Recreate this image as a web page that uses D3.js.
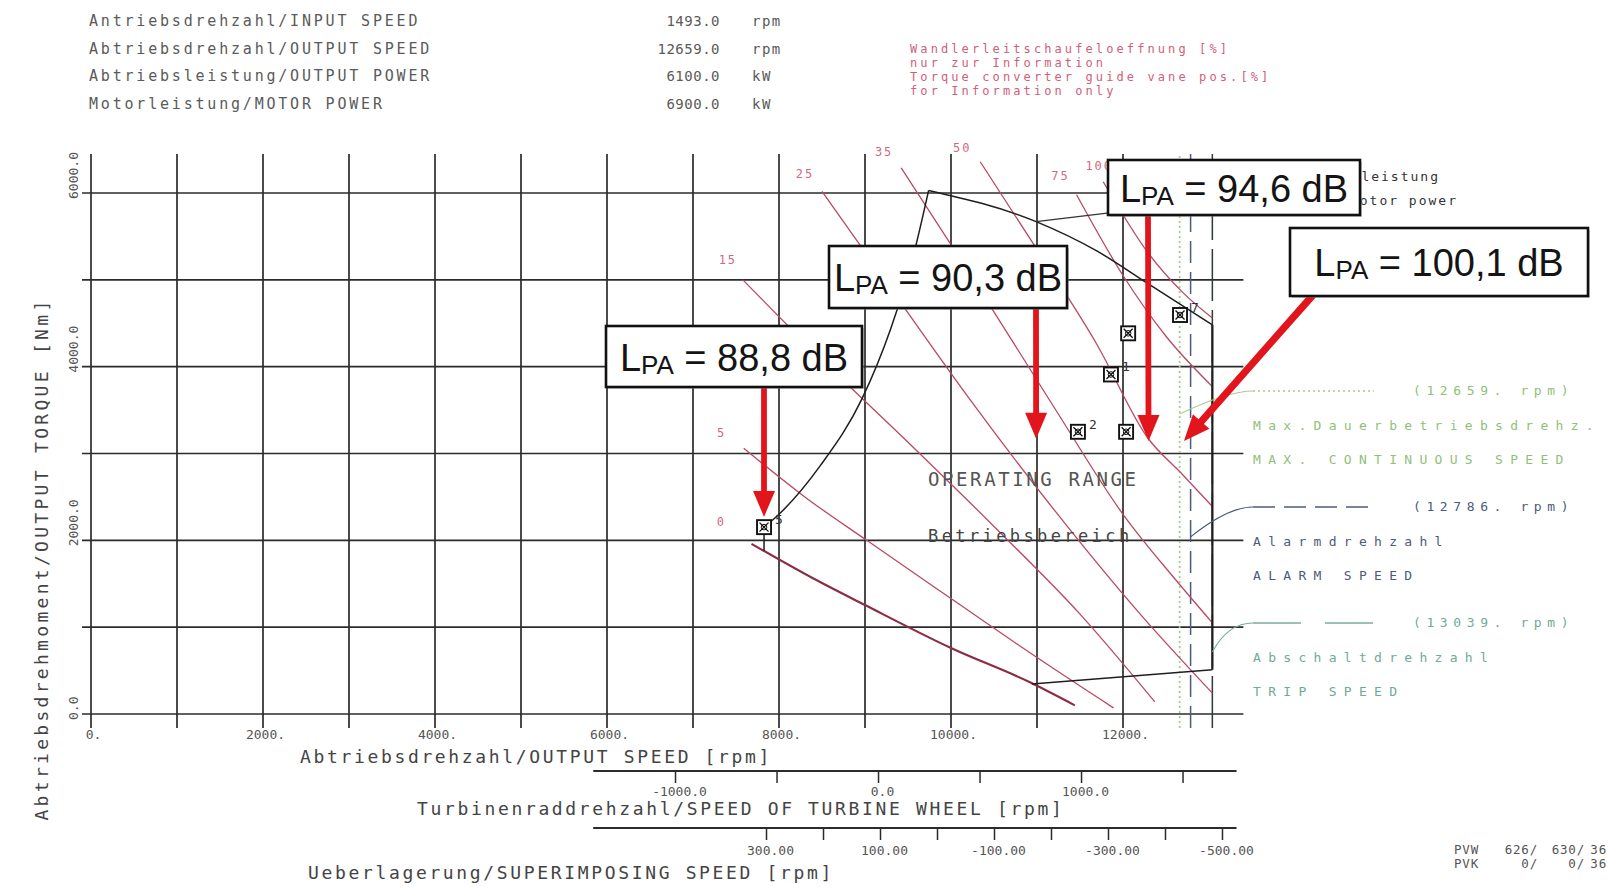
<!DOCTYPE html>
<html>
<head>
<meta charset="utf-8">
<title>Vorecon operating range</title>
<script src="https://cdn.jsdelivr.net/npm/d3@7/dist/d3.min.js"></script>
<style>
  html, body { margin: 0; padding: 0; background: #ffffff; }
  svg { display: block; }
  text { font-family: "DejaVu Sans Mono", "Liberation Mono", monospace; white-space: pre; }
  text.callout { font-family: "Liberation Sans", Arial, sans-serif; }
</style>
</head>
<body>
<svg id="chart" width="1608" height="889"></svg>
<script>
// ---------------- data ----------------
const headerLabels = [
  "Antriebsdrehzahl/INPUT SPEED",
  "Abtriebsdrehzahl/OUTPUT SPEED",
  "Abtriebsleistung/OUTPUT POWER",
  "Motorleistung/MOTOR POWER"
];
const headerValues = [1493.0, 12659.0, 6100.0, 6900.0];
const headerUnits = ["rpm", "rpm", "kW", "kW"];
const vaneInfoLines = [
  "Wandlerleitschaufeloeffnung [%]",
  "nur zur Information",
  "Torque converter guide vane pos.[%]",
  "for Information only"
];

const speedGrid = [0, 1000, 2000, 3000, 4000, 5000, 6000, 7000, 8000, 9000, 10000, 11000, 12000];
const speedTickValues = [0, 2000, 4000, 6000, 8000, 10000, 12000];
const speedTickLabels = ["0.", "2000.", "4000.", "6000.", "8000.", "10000.", "12000."];
const torqueGrid = [0, 1000, 2000, 3000, 4000, 5000, 6000];
const torqueTickValues = [0, 2000, 4000, 6000];
const torqueTickLabels = ["0.0", "2000.0", "4000.0", "6000.0"];

const turbineTicks = [-1000, -500, 0, 500, 1000, 1500];
const turbineTickLabels = ["-1000.0", "", "0.0", "", "1000.0", ""];
const superTicks = [300, 200, 100, 0, -100, -200, -300, -400, -500];
const superTickLabels = ["300.00", "", "100.00", "", "-100.00", "", "-300.00", "", "-500.00"];
// output speeds that correspond to two turbine-wheel / superimposing speeds
const turbineRef = [-1000, 1000];
const turbineRefOutput = [6791, 11512];
const superRef = [300, -500];
const superRefOutput = [7849, 13151];

// torque converter guide vane opening curves [output speed rpm, torque Nm]
const vaneOpenings = [0, 5, 15, 25, 35, 50, 75, 100];
const vaneCurves = [
  [[7680, 1960], [8400, 1560], [9000, 1255], [10000, 760], [10930, 360], [11440, 100]],
  [[7590, 3060], [8300, 2500], [9020, 2000], [10000, 1330], [11000, 650], [11890, 70]],
  [[7580, 5000], [8500, 4080], [9500, 3130], [10500, 2160], [11500, 1150], [12370, 140]],
  [[8500, 6020], [9300, 4900], [10200, 3650], [11200, 2350], [12200, 1150], [13039, 240]],
  [[9420, 6290], [10200, 5100], [11200, 3530], [12000, 2300], [12600, 1560], [13039, 1050]],
  [[10340, 6360], [11000, 5350], [11700, 4250], [12280, 3190], [12700, 2750], [13039, 2390]],
  [[11460, 5980], [12000, 5050], [12500, 4350], [13039, 3770]],
  [[11770, 6130], [12300, 5300], [12700, 4850], [13039, 4560]]
];

// operating range boundary
const rangeLeftSpeed = [7826, 8000, 8480, 8960, 9300, 9560, 9740];
const rangeLeftTorque = [2150, 2300, 2860, 3620, 4440, 5270, 6030];
const rangeTopSpeed = [9740, 10990, 11700, 12300, 13039];
const rangeTopTorque = [6030, 5670, 5330, 4950, 4480];
const rangeBottomSpeed = [10940, 13039];
const rangeBottomTorque = [345, 510];
const rangeTripTorque = [4480, 510];
const rangeFootTorque = [2150, 1880];

// measuring points
const pointSpeed = [7826, 11476, 12036, 11860, 12060, 12663];
const pointTorque = [2152, 3250, 3250, 3910, 4384, 4595];
const pointLabels = ["5", "2", "", "1", "", "7"];

// sound pressure levels and the operating points they belong to
const noiseLevels = [88.8, 90.3, 94.6, 100.1];
const noiseSpeed = [7826, 10990, 12297, 12709];
const noiseTorque = [2270, 3170, 3144, 3144];

// speed limits
const limitSpeeds = [12659, 12786, 13039];
const limitNamesDe = ["Max.Dauerbetriebsdrehz.", "Alarmdrehzahl", "Abschaltdrehzahl"];
const limitNamesEn = ["MAX. CONTINUOUS SPEED", "ALARM SPEED", "TRIP SPEED"];
const motorPowerLabel = ["Motorleistung", "Motor power"];
const motorPowerSpeed = 10990, motorPowerTorque = 5670;

// plot identification
const plotIdRows = [["PVW", "626/", "630/", "36"], ["PVK", "0/", "0/", "36"]];

// ---------------- layout & styles ----------------
const speedRight = 13400, torqueTop = 6450;
const vaneLabelOffset = [[-30, -18], [-22, -11], [-15, -16], [-17, -13], [-17, -12], [-18, -10], [-16, -15], [-4, -12]];
const noiseBoxLayout = [
  { x: 606, y: 326, w: 256, h: 61, tx: 764, ty: 386 },
  { x: 829, y: 246, w: 238, h: 62, tx: 1036, ty: 308 },
  { x: 1108, y: 160, w: 252, h: 55, tx: 1148, ty: 215 },
  { x: 1290, y: 228, w: 298, h: 68, tx: 1313, ty: 295 }
];
const limitStyle = [
  { color: "#a3cd8c", text: "#8fbf78", dash: "2,3", sample: "2,3", width: 1.7 },
  { color: "#4b5a7c", text: "#4d5b7a", dash: "22,9", sample: "22,9", width: 1.5 },
  { color: "#2f3a3a", text: "#6eab98", dash: "52,9", sample: "48,24", width: 1.5, leader: "#78ad9d" }
];
const legendTop = [391, 507, 623];
const leaderEndTorque = [3455, 2040, 715];

// ---------------- scales ----------------
const svg = d3.select("#chart");
const x = d3.scaleLinear().domain([0, 12000]).range([91, 1123]);
const y = d3.scaleLinear().domain([0, 6000]).range([714, 193]);
const turbineX = d3.scaleLinear().domain(turbineRef).range(turbineRefOutput.map(x));
const superX = d3.scaleLinear().domain(superRef).range(superRefOutput.map(x));

const ink = "#2b2b2b";
const textGray = "#555";

// ---------------- header ----------------
const header = svg.append("g");
headerLabels.forEach((t, i) => {
  const by = 26 + i * 27.7;
  header.append("text").attr("x", 89).attr("y", by).attr("font-size", 15)
    .attr("letter-spacing", 2.8).attr("fill", "#5a5a5a").text(t);
  header.append("text").attr("x", 720).attr("y", by).attr("font-size", 14)
    .attr("letter-spacing", 0.5).attr("text-anchor", "end").attr("fill", "#5a5a5a")
    .text(d3.format(".1f")(headerValues[i]));
  header.append("text").attr("x", 752).attr("y", by).attr("font-size", 14)
    .attr("letter-spacing", 1.5).attr("fill", "#5a5a5a").text(headerUnits[i]);
});
vaneInfoLines.forEach((t, i) => {
  header.append("text").attr("x", 910).attr("y", 53 + i * 14).attr("font-size", 12)
    .attr("letter-spacing", 3.1).attr("fill", "#d0607a").text(t);
});

// ---------------- grid ----------------
const grid = svg.append("g").attr("stroke", ink).attr("stroke-width", 1.7);
grid.selectAll("line.v").data(speedGrid).join("line").attr("class", "v")
  .attr("x1", d => x(d)).attr("x2", d => x(d))
  .attr("y1", y(0) + 14).attr("y2", y(torqueTop));
grid.selectAll("line.h").data(torqueGrid).join("line").attr("class", "h")
  .attr("x1", x(0) - 9).attr("x2", x(speedRight))
  .attr("y1", d => y(d)).attr("y2", d => y(d));

// speed limit reference lines
svg.append("g").selectAll("line").data(limitSpeeds).join("line")
  .attr("x1", d => x(d)).attr("x2", d => x(d))
  .attr("y1", y(0) + 14).attr("y2", y(torqueTop))
  .attr("stroke", (d, i) => limitStyle[i].color)
  .attr("stroke-width", (d, i) => limitStyle[i].width)
  .attr("stroke-dasharray", (d, i) => limitStyle[i].dash);

// ---------------- axes ----------------
const xAxis = svg.append("g").attr("transform", `translate(0,${y(0)})`)
  .call(d3.axisBottom(x).tickValues(speedTickValues)
    .tickFormat((d, i) => speedTickLabels[i]).tickSize(0));
xAxis.select(".domain").remove();
xAxis.selectAll("text").attr("y", 24.5).attr("dy", null).attr("dx", 2)
  .attr("font-size", 13).attr("fill", textGray);

svg.append("g").selectAll("text").data(torqueTickValues).join("text")
  .attr("transform", d => `translate(78,${y(d) + 6}) rotate(-90)`)
  .attr("font-size", 13).attr("fill", textGray)
  .text((d, i) => torqueTickLabels[i]);

function styleSecondary(g, labelY) {
  g.select(".domain").remove();
  g.selectAll(".tick line").attr("stroke", ink).attr("stroke-width", 1.5);
  g.selectAll("text").attr("y", labelY).attr("dy", null).attr("dx", 4)
    .attr("font-size", 13).attr("fill", textGray);
}
const turbY = 771, supY = 828;
const turbAxis = svg.append("g").attr("transform", `translate(0,${turbY})`)
  .call(d3.axisBottom(turbineX).tickValues(turbineTicks)
    .tickFormat((d, i) => turbineTickLabels[i]).tickSize(12).tickSizeOuter(0));
styleSecondary(turbAxis, 24.5);
const supAxis = svg.append("g").attr("transform", `translate(0,${supY})`)
  .call(d3.axisBottom(superX).tickValues(superTicks)
    .tickFormat((d, i) => superTickLabels[i]).tickSize(12).tickSizeOuter(0));
styleSecondary(supAxis, 26.5);
[turbY, supY].forEach(ly => {
  svg.append("line").attr("x1", x(5840)).attr("x2", x(13320)).attr("y1", ly).attr("y2", ly)
    .attr("stroke", ink).attr("stroke-width", 1.8);
});

// axis titles
const titleStyle = s => s.attr("font-size", 18).attr("letter-spacing", 2.65).attr("fill", "#444");
titleStyle(svg.append("text").attr("x", 300).attr("y", 763)).text("Abtriebsdrehzahl/OUTPUT SPEED [rpm]");
titleStyle(svg.append("text").attr("x", 417).attr("y", 815)).text("Turbinenraddrehzahl/SPEED OF TURBINE WHEEL [rpm]");
titleStyle(svg.append("text").attr("x", 308).attr("y", 879)).text("Ueberlagerung/SUPERIMPOSING SPEED [rpm]");
svg.append("text").attr("transform", "translate(48,559) rotate(-90)")
  .attr("text-anchor", "middle").attr("font-size", 18).attr("letter-spacing", 3.3)
  .attr("fill", "#444").text("Abtriebsdrehmoment/OUTPUT TORQUE [Nm]");

// ---------------- guide vane curves ----------------
const curveLine = d3.line().x(d => x(d[0])).y(d => y(d[1])).curve(d3.curveMonotoneX);
svg.append("g").attr("fill", "none").selectAll("path").data(vaneCurves).join("path")
  .attr("d", curveLine)
  .attr("stroke", (d, i) => i === 0 ? "#8c2c42" : "#b94a62")
  .attr("stroke-width", (d, i) => i === 0 ? 2.1 : 1.3);
svg.append("g").selectAll("text").data(vaneOpenings).join("text")
  .attr("x", (d, i) => x(vaneCurves[i][0][0]) + vaneLabelOffset[i][0])
  .attr("y", (d, i) => y(vaneCurves[i][0][1]) + vaneLabelOffset[i][1])
  .attr("text-anchor", "middle").attr("font-size", 12).attr("letter-spacing", 2)
  .attr("fill", "#d06a80").text(d => d);

// ---------------- operating range ----------------
const plainLine = d3.line().x(d => x(d[0])).y(d => y(d[1]));
const boundary = svg.append("g").attr("fill", "none").attr("stroke", "#1e1e1e").attr("stroke-width", 1.5);
boundary.append("path").attr("d", curveLine(rangeLeftSpeed.map((s, i) => [s, rangeLeftTorque[i]])));
boundary.append("path").attr("d", curveLine(rangeTopSpeed.map((s, i) => [s, rangeTopTorque[i]])));
boundary.append("path").attr("d", plainLine(rangeBottomSpeed.map((s, i) => [s, rangeBottomTorque[i]])));
boundary.append("path").attr("stroke-width", 2.2)
  .attr("d", plainLine(rangeTripTorque.map(t => [limitSpeeds[2], t])));
boundary.append("path")
  .attr("d", plainLine(rangeFootTorque.map(t => [rangeLeftSpeed[0], t])));

svg.append("text").attr("x", 928).attr("y", 486).attr("font-size", 19).attr("letter-spacing", 2.6)
  .attr("fill", textGray).text("OPERATING RANGE");
svg.append("text").attr("x", 928).attr("y", 542).attr("font-size", 17).attr("letter-spacing", 3.4)
  .attr("fill", "#444").text("Betriebsbereich");

// motor power label with leader (partly covered by the 94,6 dB callout)
svg.append("line").attr("x1", x(motorPowerSpeed)).attr("y1", y(motorPowerTorque))
  .attr("x2", 1300).attr("y2", 190).attr("stroke", "#333").attr("stroke-width", 1.2);
motorPowerLabel.forEach((t, i) => {
  svg.append("text").attr("x", [1440, 1458][i]).attr("y", [181, 205][i])
    .attr("text-anchor", "end").attr("font-size", 13).attr("letter-spacing", 2)
    .attr("fill", "#333").text(t);
});

// ---------------- measuring points ----------------
const pts = svg.append("g").selectAll("g").data(pointSpeed).join("g")
  .attr("transform", (d, i) => `translate(${x(d)},${y(pointTorque[i])})`);
pts.append("rect").attr("x", -7).attr("y", -7).attr("width", 14).attr("height", 14)
  .attr("fill", "#fff").attr("stroke", "#111").attr("stroke-width", 1.9);
pts.append("path").attr("d", "M-4.5,-4.5L4.5,4.5M4.5,-4.5L-4.5,4.5").attr("stroke", "#111").attr("stroke-width", 1.3);
pts.append("circle").attr("r", 2.8).attr("fill", "none").attr("stroke", "#111").attr("stroke-width", 1);
pts.append("text").attr("x", 11).attr("y", -3).attr("font-size", 13).attr("fill", "#333")
  .text((d, i) => pointLabels[i]);

// ---------------- speed limit legend ----------------
const legend = svg.append("g");
limitSpeeds.forEach((v, i) => {
  const st = limitStyle[i], top = legendTop[i];
  legend.append("path")
    .attr("d", `M1253,${top} Q1228,${top} ${x(v)},${y(leaderEndTorque[i])}`)
    .attr("fill", "none").attr("stroke", st.leader || st.color).attr("stroke-width", 1.2);
  legend.append("line").attr("x1", 1253).attr("x2", 1374).attr("y1", top).attr("y2", top)
    .attr("stroke", st.leader || st.color).attr("stroke-width", 1.5).attr("stroke-dasharray", st.sample);
  legend.append("text").attr("x", 1413).attr("y", top + 4).attr("font-size", 13)
    .attr("letter-spacing", 5.6).attr("fill", st.text).text(`(${d3.format(".0f")(v)}. rpm)`);
  legend.append("text").attr("x", 1253).attr("y", top + 38.5).attr("font-size", 13)
    .attr("letter-spacing", 7.3).attr("fill", st.text).text(limitNamesDe[i]);
  legend.append("text").attr("x", 1253).attr("y", top + 73).attr("font-size", 13)
    .attr("letter-spacing", 7.3).attr("fill", st.text).text(limitNamesEn[i]);
});

// ---------------- sound level callouts ----------------
function arrowPath(x0, y0, x1, y1, headLen, headHalf, shaftHalf) {
  const dx = x1 - x0, dy = y1 - y0, L = Math.hypot(dx, dy);
  const ux = dx / L, uy = dy / L, px = -uy, py = ux;
  const bx = x1 - ux * headLen, by = y1 - uy * headLen;
  return `M${x0 + px * shaftHalf},${y0 + py * shaftHalf}` +
    `L${bx + px * shaftHalf},${by + py * shaftHalf}L${bx + px * headHalf},${by + py * headHalf}` +
    `L${x1},${y1}L${bx - px * headHalf},${by - py * headHalf}` +
    `L${bx - px * shaftHalf},${by - py * shaftHalf}L${x0 - px * shaftHalf},${y0 - py * shaftHalf}Z`;
}
const callouts = svg.append("g");
noiseLevels.forEach((lvl, i) => {
  const b = noiseBoxLayout[i];
  callouts.append("path")
    .attr("d", arrowPath(b.tx, b.ty, x(noiseSpeed[i]), y(noiseTorque[i]), 26, 11, i === 3 ? 3.6 : 2.9))
    .attr("fill", "#e3151c");
});
noiseLevels.forEach((lvl, i) => {
  const b = noiseBoxLayout[i];
  const g = callouts.append("g");
  g.append("rect").attr("x", b.x + 2).attr("y", b.y + 2).attr("width", b.w).attr("height", b.h)
    .attr("fill", "#9a9a9a").attr("opacity", 0.45);
  g.append("rect").attr("x", b.x).attr("y", b.y).attr("width", b.w).attr("height", b.h)
    .attr("fill", "#fff").attr("stroke", "#111").attr("stroke-width", 2.6);
  const t = g.append("text").attr("class", "callout")
    .attr("x", b.x + b.w / 2).attr("y", b.y + b.h / 2 + 14)
    .attr("text-anchor", "middle").attr("font-size", 38).attr("fill", "#141414");
  t.append("tspan").text("L");
  t.append("tspan").attr("font-size", 26).attr("dy", 3).text("PA");
  t.append("tspan").attr("dy", -3).text(" = " + d3.format(".1f")(lvl).replace(".", ",") + " dB");
});

// ---------------- plot id ----------------
const pv = svg.append("g").attr("font-size", 12.5).attr("fill", "#555").attr("letter-spacing", 0.8);
plotIdRows.forEach((row, r) => {
  const by = 854 + r * 14;
  pv.append("text").attr("x", 1454).attr("y", by).text(row[0]);
  pv.append("text").attr("x", 1538).attr("y", by).attr("text-anchor", "end").text(row[1]);
  pv.append("text").attr("x", 1585).attr("y", by).attr("text-anchor", "end").text(row[2]);
  pv.append("text").attr("x", 1607).attr("y", by).attr("text-anchor", "end").text(row[3]);
});
</script>
</body>
</html>
